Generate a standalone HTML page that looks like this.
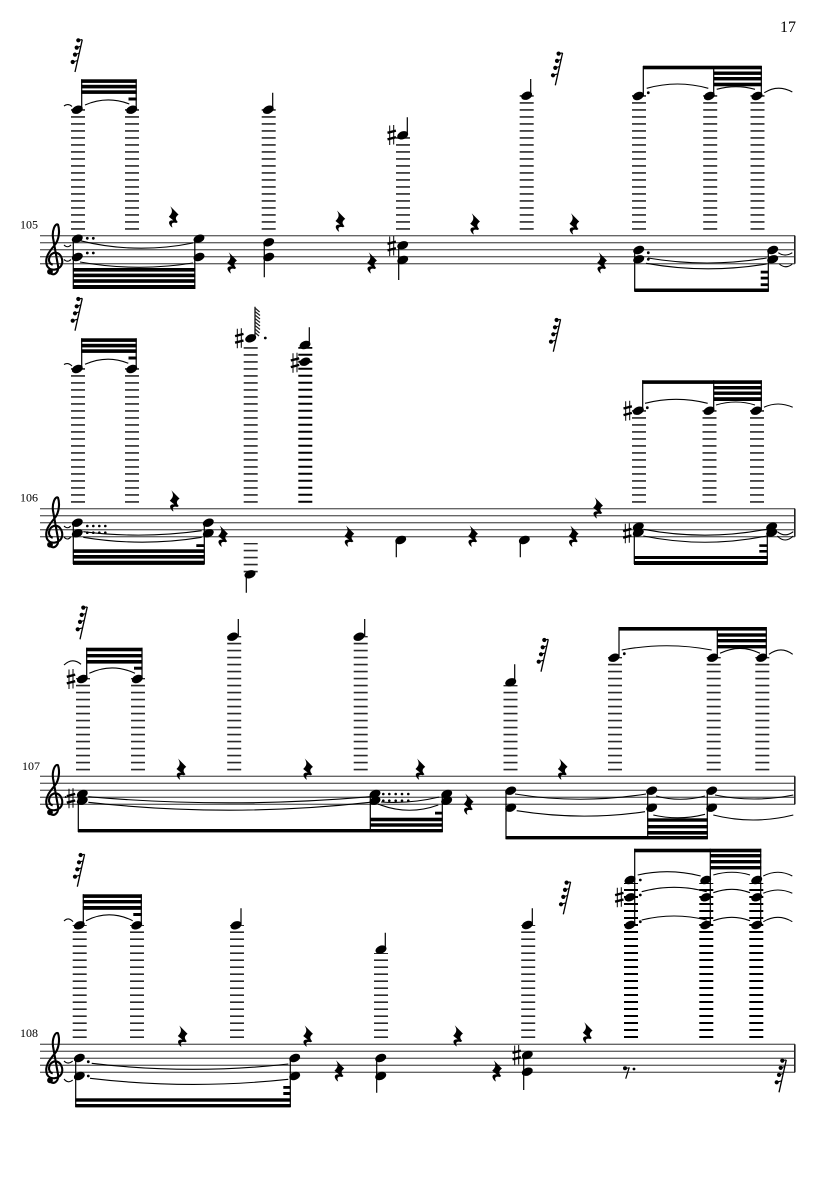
<!DOCTYPE html>
<html><head><meta charset="utf-8"><style>
html,body{margin:0;padding:0;background:#fff}
svg{display:block}
.s{stroke:#666;stroke-width:1.3;fill:none}
.l{stroke:#2a2a2a;stroke-width:14;stroke-dasharray:1.6 5.4;fill:none}
.d{stroke:#000;stroke-width:14;stroke-dasharray:2 5;fill:none}
.w{stroke:#000;stroke-width:1.2;fill:none}
.t{stroke:#000;stroke-width:1.1;fill:none}
.b{fill:#000}
text{font-family:"Liberation Serif",serif;fill:#000}
</style></head><body>
<svg xmlns="http://www.w3.org/2000/svg" width="835" height="1181" viewBox="0 0 835 1181">
<defs>
<g id="n"><ellipse rx="5.7" ry="3.9" transform="rotate(-22)"/></g>
<g id="h"><path d="M-2 -9.5V10M2 -10V9.5" stroke="#000" stroke-width="1" fill="none"/><path d="M-4.2 -2.2L4.2 -4.4M-4.2 4.4L4.2 2.2" stroke="#000" stroke-width="2.4" fill="none"/></g>
<path id="r" transform="scale(1.5,1.05)" d="M-2-10L3.5-2C1.5 0 1 2 3 5L2 6C0 5-2 6-.5 10L-1 10C-4 6-3 3 0 3.5L-3 0C-1-3 0-5-2-10Z"/>
<g id="q"><path d="M0 0L7.3-32.4" stroke="#000" stroke-width="1.3"/><path d="M-2.3-10L2.6-11.5M0-17.4L4.2-18.8M1.7-24.4L5.8-25.8M3.3-31.7L7.2-32.4" stroke="#000" stroke-width="1.1"/><circle cx="-2.3" cy="-10" r="2.1"/><circle cy="-17.4" r="2.1"/><circle cx="1.7" cy="-24.4" r="2.1"/><circle cx="3.3" cy="-31.7" r="2.1"/></g>
<g id="c"><path d="M52.7 29C47 28 48 18 55 17C61 17 63 24 62 28C60 35 50 36 47 30C44 22 50 15 55 9C59 4 60-5 58-11C55-13 52-5 53 2L58 30C59 36 55 40 51 38" fill="none" stroke="#000" stroke-width="2.1"/><circle cx="50" cy="36" r="2.9"/></g>
<g id="st"><path class="s" d="M40 0H795M40 7H795M40 14H795M40 21H795M40 28H795"/><path d="M794.8 0V28" stroke="#222" stroke-width="1.6"/><use href="#c"/></g>
</defs>

<text x="780" y="32" font-size="16">17</text>

<!-- SYSTEM 105 -->
<use href="#st" y="235.7"/>
<text x="20" y="228.3" font-size="12">105</text>
<path class="l" d="M78 229.7V109M132 229.7V109M268.7 229.7V109M403 229.7V137M526.7 229.7V95M639 229.7V95M710.2 229.7V95M757.5 229.7V95"/>
<use href="#q" x="75" y="72"/><use href="#q" x="555.3" y="85.3"/>
<use href="#n" x="77.3" y="109.7"/><use href="#n" x="131.7" y="109.7"/><use href="#n" x="268.3" y="109.7"/>
<path class="w" d="M81.7 109V79.3M136.2 109V79.3M272.7 109V92.7M407.3 135V117.3M530.7 95V79"/>
<rect class="b" x="81.2" y="79.3" width="55.5" height="3.6"/><rect class="b" x="81.2" y="84.8" width="55.5" height="3.6"/><rect class="b" x="81.2" y="90.3" width="55.5" height="3.6"/><rect class="b" x="128.5" y="97.5" width="8.2" height="3"/>
<path class="t" d="M64 106Q68 103 72 106.5M85 105Q107 95.5 129.3 104"/>
<use href="#n" x="77.3" y="238.7"/><use href="#n" x="77.3" y="257"/><use href="#n" x="199" y="238.7"/><use href="#n" x="199" y="257"/>
<path class="w" d="M73.3 240V289M194.8 240V289M264.3 243V277.3M398.7 246V280"/>
<rect class="b" x="73" y="268" width="122.2" height="3.6"/><rect class="b" x="73" y="273.6" width="122.2" height="3.6"/><rect class="b" x="73" y="279.2" width="122.2" height="3.6"/><rect class="b" x="73" y="285" width="122.2" height="4"/>
<circle cx="87.3" cy="238.3" r="1.4"/><circle cx="93.3" cy="238.3" r="1.4"/><circle cx="87.3" cy="253" r="1.4"/><circle cx="93.3" cy="253" r="1.4"/>
<path class="t" d="M64 245Q67.5 248.5 71 245M64 259.5Q67.5 263 71 259.5M80 240.7Q136 254.5 193 243M80 262Q136 272 193 263"/>
<use href="#r" x="173.3" y="216.7"/><use href="#r" x="231.7" y="262.7"/><use href="#r" x="340" y="221"/><use href="#r" x="371.7" y="262.7"/><use href="#r" x="474.7" y="223.7"/><use href="#r" x="574" y="223.7"/><use href="#r" x="601.7" y="262.7"/>
<use href="#n" x="268.7" y="242.3"/><use href="#n" x="268.7" y="257"/>
<use href="#h" x="391.7" y="135"/><use href="#n" x="402.7" y="135.3"/><use href="#n" x="526.7" y="95.7"/>
<use href="#h" x="391.7" y="246"/><use href="#n" x="402.7" y="245.3"/><use href="#n" x="402.7" y="260"/>
<use href="#n" x="638.3" y="96"/><use href="#n" x="709.3" y="96"/><use href="#n" x="757" y="96"/>
<path class="w" d="M643.3 96V66M713.7 96V66M761.3 96V66M634.7 250V291M768.3 250V291"/>
<rect class="b" x="643" y="65.7" width="118.8" height="3.6"/><rect class="b" x="713.5" y="71.5" width="48.3" height="3.4"/><rect class="b" x="713.5" y="77" width="48.3" height="3.4"/><rect class="b" x="713.5" y="82.7" width="48.3" height="3.6"/>
<circle cx="648.3" cy="92.7" r="1.4"/><circle cx="648.3" cy="252.7" r="1.4"/><circle cx="648.3" cy="259.3" r="1.4"/>
<path class="t" d="M646.7 88.3Q677.5 79.7 708.3 88.3M716.7 89.3Q736 84 755 89.3M764.3 92.7Q778 84 792.3 92M648 258Q707 268 766.7 258M646 263.3Q706 274 766.7 264M778.3 252.7Q785 257.5 792.3 252.7M779.3 264Q786 269.5 792.3 264"/>
<use href="#n" x="638.7" y="250"/><use href="#n" x="638.7" y="259.3"/><use href="#n" x="772.7" y="250"/><use href="#n" x="772.7" y="259.3"/>
<rect class="b" x="634.3" y="288.5" width="134.5" height="3.5"/><rect class="b" x="760.7" y="270.7" width="7.8" height="2.8"/><rect class="b" x="760.7" y="276.7" width="7.8" height="2.8"/><rect class="b" x="760.7" y="283.3" width="7.8" height="2.8"/>

<!-- SYSTEM 106 -->
<use href="#st" y="508.7"/>
<text x="20" y="501.3" font-size="12">106</text>
<path class="l" d="M78 502.7V368M132 502.7V368M250.7 502.7V347M639 502.7V410M709.5 502.7V410M757 502.7V410M250.7 572.4V543"/>
<path class="d" d="M305.3 502.7V347"/>
<use href="#q" x="75" y="330.7"/><use href="#q" x="553.3" y="351.7"/>
<use href="#n" x="77.3" y="369"/><use href="#n" x="131.7" y="369"/>
<path class="w" d="M81.7 369V338.3M136.2 369V338.3M255 338V306.7M309.3 345V327.3M246.3 574V592.7"/>
<rect class="b" x="81.2" y="338.3" width="55.5" height="3.6"/><rect class="b" x="81.2" y="343.8" width="55.5" height="3.6"/><rect class="b" x="81.2" y="349.3" width="55.5" height="3.6"/><rect class="b" x="128.5" y="356.5" width="8.2" height="3"/>
<path class="t" d="M64 364.5Q68 362 72 366M85 364.3Q107 354.5 128.3 363.3"/>
<use href="#n" x="77.3" y="522.7"/><use href="#n" x="77.3" y="533.3"/><use href="#n" x="208.3" y="522.7"/><use href="#n" x="208.3" y="533.3"/>
<path class="w" d="M73.3 524V564M204.3 524V564"/>
<rect class="b" x="73" y="549.3" width="131.6" height="3.6"/><rect class="b" x="73" y="555" width="131.6" height="3.6"/><rect class="b" x="73" y="560.7" width="131.6" height="4.2"/><rect class="b" x="196.3" y="544.2" width="8" height="2.8"/>
<circle cx="87.3" cy="526" r="1.3"/><circle cx="93.3" cy="526" r="1.3"/><circle cx="99.3" cy="526" r="1.3"/><circle cx="105.3" cy="526" r="1.3"/><circle cx="87.3" cy="532.7" r="1.3"/><circle cx="93.3" cy="532.7" r="1.3"/><circle cx="99.3" cy="532.7" r="1.3"/><circle cx="105.3" cy="532.7" r="1.3"/>
<path class="t" d="M64 526Q67.5 529.5 70.7 526M64 537Q67.5 541 70.7 537M83.3 531.7Q142 539 201.7 530.7M83.3 537.3Q142 547 201.7 537.3"/>
<use href="#r" x="174.3" y="500.7"/><use href="#r" x="222.7" y="536"/><use href="#r" x="349" y="536"/><use href="#r" x="472.7" y="536"/><use href="#r" x="573.3" y="536"/><use href="#r" x="597.7" y="507.7"/>
<use href="#h" x="239.3" y="338.3"/><use href="#n" x="250.7" y="338.3"/><circle cx="265.3" cy="338" r="1.4"/>
<path d="M255 308l4.6 4M255 311.5l5 4M255 315l5 4M255 318.5l5 4M255 322l5 4M255 325.5l5 4M255 329l4.6 4M255 332.5l4 3.5" stroke="#222" stroke-width="1.2" fill="none"/>
<use href="#n" x="250" y="574.3"/>
<use href="#n" x="305" y="345"/><use href="#n" x="305" y="361.7"/><use href="#h" x="295" y="362.7"/>
<use href="#n" x="400.7" y="540"/><use href="#n" x="524.3" y="540"/>
<path class="w" d="M396.3 541V557.3M520.3 541V557.3M642.7 410V380.3M713.7 410V380.3M761.3 410V380.3M634.3 527V564M767.3 527V564"/>
<use href="#h" x="627.7" y="410.7"/><use href="#n" x="638.3" y="410.7"/><use href="#n" x="709" y="410.7"/><use href="#n" x="756.3" y="410.7"/>
<rect class="b" x="642.3" y="380.3" width="119.5" height="3.6"/><rect class="b" x="713.5" y="386" width="48.3" height="3.4"/><rect class="b" x="713.5" y="391.5" width="48.3" height="3.4"/><rect class="b" x="713.5" y="397.2" width="48.3" height="3.8"/>
<circle cx="647.3" cy="407.7" r="1.4"/>
<path class="t" d="M645 403.3Q676 395.3 707.7 403.3M716 405Q736 399 755 405M764 407.3Q778 400.7 792.7 407.3M643.3 529.3Q705 541 766.7 529.3M643.3 536Q705 548.5 766.7 536M777.3 531.7Q785 538 793.3 531.7M777.3 536Q785 544 793.3 536"/>
<use href="#h" x="627.3" y="533.3"/><use href="#n" x="638.3" y="526.7"/><use href="#n" x="638.3" y="532.7"/><use href="#n" x="771.7" y="526.7"/><use href="#n" x="771.7" y="532.7"/>
<rect class="b" x="634" y="556" width="133.7" height="3"/><rect class="b" x="634" y="561" width="133.7" height="4"/><rect class="b" x="759.3" y="544.3" width="8" height="2.6"/><rect class="b" x="759.3" y="550" width="8" height="2.6"/>

<!-- SYSTEM 107 -->
<use href="#st" y="776.3"/>
<text x="22" y="770" font-size="12">107</text>
<path class="l" d="M83 770.4V678M138 770.4V678M234.2 770.4V636M360.7 770.4V636M510.5 770.4V685M615 770.4V657M713.7 770.4V657M762.3 770.4V657"/>
<use href="#q" x="80" y="639.3"/><use href="#q" x="541" y="671.7"/>
<use href="#h" x="71" y="679"/><use href="#n" x="82.3" y="679"/><use href="#n" x="137.3" y="679"/>
<path class="w" d="M86.7 679V647.7M142 679V647.7M238.3 636V619M364.7 636V619M514.7 682V664.3M619 657V627M717.3 657V627M766.3 657V627"/>
<rect class="b" x="86.2" y="647.7" width="56.3" height="3.6"/><rect class="b" x="86.2" y="654" width="56.3" height="3.4"/><rect class="b" x="86.2" y="660" width="56.3" height="3.6"/><rect class="b" x="134" y="666.7" width="8.4" height="3"/>
<path class="t" d="M64 665Q72.5 657 81 664.3M89.3 673.3Q112 662.5 135 673.3"/>
<use href="#r" x="181" y="769"/><use href="#r" x="307.7" y="769"/><use href="#r" x="420" y="769"/><use href="#r" x="562.3" y="769"/><use href="#r" x="468.3" y="804"/>
<use href="#n" x="232.7" y="636.7"/><use href="#n" x="359" y="636.7"/><use href="#n" x="510.7" y="682.3"/>
<circle cx="65.7" cy="797" r="1"/><use href="#h" x="71" y="798.3"/>
<use href="#n" x="82.3" y="794"/><use href="#n" x="82.3" y="800.7"/><use href="#n" x="375" y="794"/><use href="#n" x="375" y="800.7"/><use href="#n" x="446.7" y="794"/><use href="#n" x="446.7" y="800.7"/>
<path class="w" d="M78.3 795V832M370.3 795V832M442.3 795V832"/>
<rect class="b" x="78" y="829" width="364.7" height="3.4"/><rect class="b" x="370" y="817.7" width="72.6" height="3.6"/><rect class="b" x="370" y="823.3" width="72.6" height="3.4"/><rect class="b" x="435" y="811.7" width="7.5" height="2.8"/>
<circle cx="383.3" cy="794" r="1.3"/><circle cx="389.3" cy="794" r="1.3"/><circle cx="395.7" cy="794" r="1.3"/><circle cx="402" cy="794" r="1.3"/><circle cx="408.3" cy="794" r="1.3"/><circle cx="383.3" cy="800.7" r="1.3"/><circle cx="389.3" cy="800.7" r="1.3"/><circle cx="395.7" cy="800.7" r="1.3"/><circle cx="402" cy="800.7" r="1.3"/><circle cx="408.3" cy="800.7" r="1.3"/>
<path class="t" d="M88.3 796.7Q229 809 370 796.7M88.3 802.3Q229 818 370 802.3M381 802Q410 804 439.3 797M378 804Q408 816 438.3 805"/>
<use href="#n" x="614" y="657.7"/><use href="#n" x="712.7" y="657.7"/><use href="#n" x="761.7" y="657.7"/>
<rect class="b" x="618.6" y="627" width="148" height="3.6"/><rect class="b" x="717" y="633.3" width="49.6" height="3.4"/><rect class="b" x="717" y="639" width="49.6" height="3.4"/><rect class="b" x="717" y="645" width="49.6" height="3.4"/>
<circle cx="624.3" cy="653.7" r="1.4"/>
<path class="t" d="M621.7 650Q667 641.5 711.7 650M720 653.3Q740 643.5 760 653.3M769 654.3Q781 645.5 792.7 654.3M515 794Q580 804.5 646 794M516.7 810.7Q581 821 645 811.7M656 796Q680 802.5 705 796M653.3 815Q679 821 705 814.3M715 795Q754 803 793.3 795M713.3 815Q753 825 793.3 815"/>
<use href="#n" x="510.7" y="790.7"/><use href="#n" x="510.7" y="807.7"/><use href="#n" x="651.7" y="790.7"/><use href="#n" x="651.7" y="807.7"/><use href="#n" x="711.7" y="790.7"/><use href="#n" x="711.7" y="807.7"/>
<path class="w" d="M506 791V839M647.7 791V839M707.3 791V839"/>
<rect class="b" x="505.6" y="836" width="202.2" height="3.4"/><rect class="b" x="647.3" y="818.3" width="60.5" height="3.4"/><rect class="b" x="647.3" y="825" width="60.5" height="3.4"/><rect class="b" x="647.3" y="831" width="60.5" height="3.6"/>

<!-- SYSTEM 108 -->
<use href="#st" y="1044.3"/>
<text x="20" y="1037" font-size="12">108</text>
<path class="l" d="M79.7 1038V925M137 1038V925M237 1038V925M381 1038V953M528.2 1038V925"/>
<path class="d" d="M631 1038V883M706.3 1038V883M756.3 1038V883"/>
<use href="#q" x="77.3" y="886.7"/><use href="#q" x="563.3" y="914.3"/><use href="#q" x="779" y="1092.3"/>
<use href="#n" x="79.3" y="925.3"/><use href="#n" x="136.7" y="925.3"/><use href="#n" x="236" y="925.3"/><use href="#n" x="381" y="949.6"/><use href="#n" x="527.3" y="925"/>
<path class="w" d="M83.3 925V894.3M141.3 925V894.3M241 925V908.3M385.3 949V932.7M532.3 925V908.3"/>
<rect class="b" x="82.8" y="894.3" width="59" height="3.6"/><rect class="b" x="82.8" y="900" width="59" height="3.4"/><rect class="b" x="82.8" y="906" width="59" height="3.8"/><rect class="b" x="133.3" y="913" width="8.5" height="3"/>
<path class="t" d="M64 921Q68.5 916.5 73 921.7M86 920.7Q109 909 132.7 920.7"/>
<use href="#n" x="79.3" y="1058"/><use href="#n" x="79.3" y="1076"/><use href="#n" x="294.7" y="1058"/><use href="#n" x="294.7" y="1076"/>
<path class="w" d="M75.7 1059V1107M290.3 1059V1107M376.7 1059V1092.7M523.7 1056V1090"/>
<rect class="b" x="75.3" y="1098.3" width="215.4" height="3.4"/><rect class="b" x="75.3" y="1104" width="215.4" height="3.4"/><rect class="b" x="283.3" y="1086" width="7.3" height="2.8"/><rect class="b" x="283.3" y="1092" width="7.3" height="3"/>
<circle cx="88.3" cy="1061.7" r="1.4"/><circle cx="88.3" cy="1076" r="1.4"/>
<path class="t" d="M64 1061Q68 1065 72.7 1061M64 1079Q68 1084 72.7 1080M91.7 1063.3Q190 1075 288.3 1064M90 1078.3Q189 1090 288.3 1079.3"/>
<use href="#r" x="182.3" y="1036"/><use href="#r" x="307.7" y="1036"/><use href="#r" x="339" y="1070.7"/><use href="#r" x="457.7" y="1035.7"/><use href="#r" x="496.7" y="1070.7"/><use href="#r" x="587.3" y="1032.7"/>
<use href="#n" x="380.7" y="1058"/><use href="#n" x="380.7" y="1076"/>
<use href="#h" x="516.7" y="1055"/><use href="#n" x="527.3" y="1055"/><use href="#n" x="527.3" y="1071.7"/>
<path d="M625.7 1078.7L629.3 1067.3" stroke="#000" stroke-width="1.2"/><path d="M625 1068.3L629 1068" stroke="#000" stroke-width="1"/><circle cx="625" cy="1068.3" r="2"/><circle cx="634" cy="1069" r="1.4"/>
<use href="#h" x="619.3" y="897.3"/>
<use href="#n" x="630" y="880"/><use href="#n" x="630" y="897.3"/><use href="#n" x="630" y="925"/>
<use href="#n" x="705.7" y="880"/><use href="#n" x="705.7" y="897.3"/><use href="#n" x="705.7" y="925"/>
<use href="#n" x="756.7" y="880"/><use href="#n" x="756.7" y="897.3"/><use href="#n" x="756.7" y="925"/>
<path class="w" d="M634.7 925V848.7M710.3 925V848.7M760.7 925V848.7"/>
<rect class="b" x="634.2" y="848.7" width="127" height="3.6"/><rect class="b" x="710" y="854" width="51.2" height="3.4"/><rect class="b" x="710" y="860" width="51.2" height="3.4"/><rect class="b" x="710" y="866" width="51.2" height="3.4"/>
<circle cx="640.3" cy="880" r="1.4"/><circle cx="640.3" cy="895" r="1.4"/><circle cx="640.3" cy="921.7" r="1.4"/>
<path class="t" d="M637.7 875Q669 868 700.7 876M641.7 891.7Q674 883 706.7 891.7M641.7 920Q674 912 706.7 920M713.3 875Q732 869.5 750 875M713.3 892.7Q732 886 750 892.7M713.3 920.7Q732 914 750 920.7M763.3 876Q778 868.5 792.3 876M763.3 893.3Q778 886.7 792.3 893.3M763.3 921.7Q778 913 792.3 921.7"/>
</svg>
</body></html>
